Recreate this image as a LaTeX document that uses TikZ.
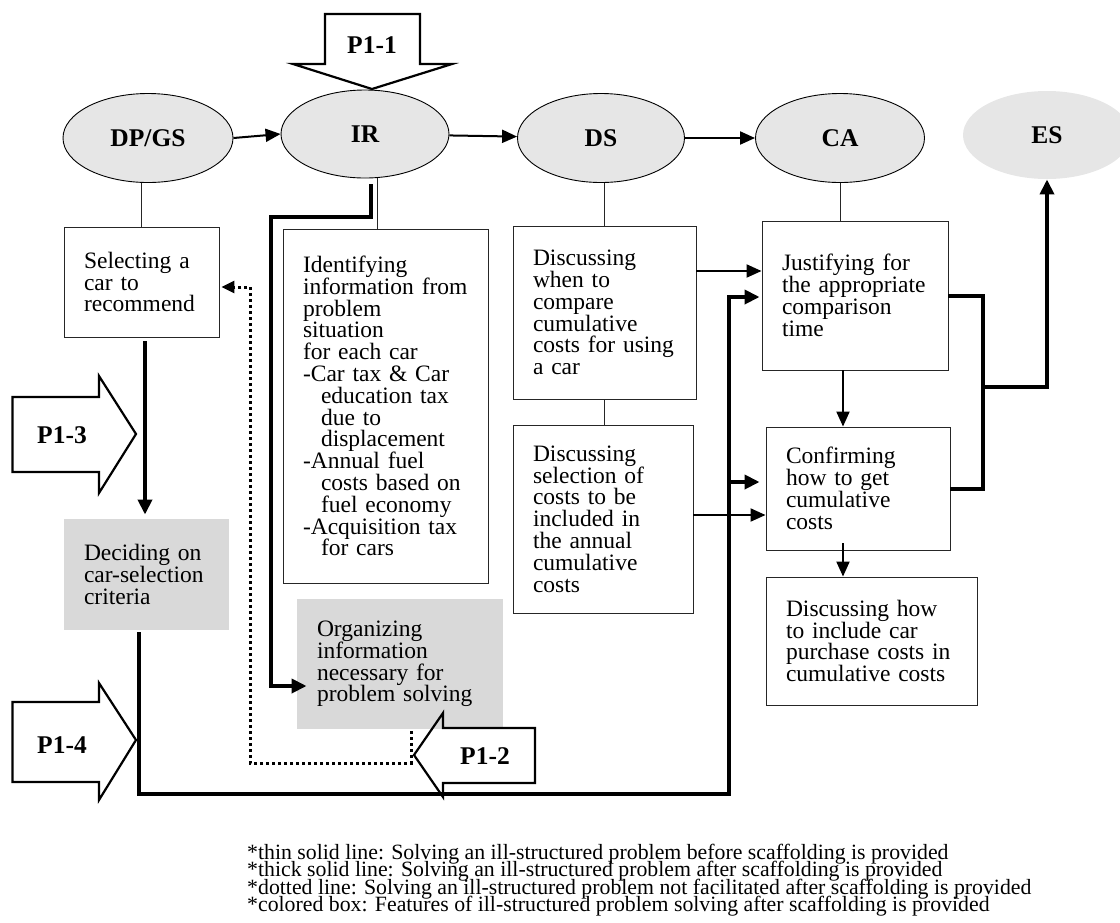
\documentclass[tikz,border=0pt]{standalone}
\usepackage{fontspec}
\setmainfont{Liberation Serif}
\usetikzlibrary{arrows.meta,calc,shapes.geometric}
\hyphenpenalty=10000
\exhyphenpenalty=10000
\definecolor{ellgray}{HTML}{E6E6E6}
\definecolor{boxgray}{HTML}{D9D9D9}
\begin{document}
\begin{tikzpicture}[x=1pt,y=-1pt,
  phase/.style={ellipse, draw=black, line width=0.9pt, fill=ellgray, inner sep=0pt,
    font=\fontsize{25.5}{28}\selectfont\bfseries},
  stepbox/.style={rectangle, draw=black!85, line width=0.9pt, inner xsep=20pt, inner ysep=0pt,
    align=left, font=\fontsize{23.5}{21.8}\selectfont},
  graybox/.style={stepbox, draw=none, fill=boxgray},
  conn/.style={line width=0.9pt, black!85},
  arr/.style={line width=2pt, -{Triangle[length=15pt,width=13pt]}},
  tarr/.style={line width=4pt, -{Triangle[length=15pt,width=14pt]}},
  thickline/.style={line width=4pt},
  dotline/.style={line width=3pt, dash pattern=on 3pt off 3pt, -{Triangle[length=13pt,width=12pt]}},
  blockarr/.style={draw, line width=2.2pt, line join=miter},
  plabel/.style={font=\fontsize{25.5}{28}\selectfont\bfseries, inner sep=0pt},
  note/.style={font=\fontsize{21.8}{17}\selectfont, inner sep=0pt, anchor=base west}
]
\useasboundingbox (0,0) rectangle (1120,922);

% phases
\node[phase, minimum width=170pt, minimum height=89pt] (dpgs) at (148,138) {DP/GS};
\node[phase, minimum width=168pt, minimum height=88pt] (ir) at (365,134) {IR};
\node[phase, minimum width=167pt, minimum height=89pt] (ds) at (601,138) {DS};
\node[phase, minimum width=169pt, minimum height=89pt] (ca) at (840,138) {CA};
\node[phase, draw=none, minimum width=168pt, minimum height=88pt] (es) at (1047,135) {ES};

% boxes
\node[stepbox, text width=115pt, minimum height=110pt] (sel) at (141.5,282)
  {Selecting~a\\car~to\\recommend};
\node[stepbox, text width=165pt, minimum height=354pt] (ident) at (385.5,406)
  {Identifying\\information~from\\problem\\situation\\for~each~car\\-Car~tax~\&~Car\\
   \hspace*{18pt}education~tax\\\hspace*{18pt}due~to\\\hspace*{18pt}displacement\\
   -Annual~fuel\\\hspace*{18pt}costs~based~on\\\hspace*{18pt}fuel~economy\\
   -Acquisition~tax\\\hspace*{18pt}for~cars};
\node[stepbox, text width=143pt, minimum height=173pt] (ds1) at (604.5,312.5)
  {Discussing\\when~to\\compare\\cumulative\\costs~for~using\\a~car};
\node[stepbox, text width=140pt, minimum height=188pt] (ds2) at (603,519)
  {Discussing\\selection~of\\costs~to~be\\included~in\\the~annual\\cumulative\\costs};
\node[stepbox, text width=146pt, minimum height=149pt] (ca1) at (855,295.5)
  {Justifying~for\\the~appropriate\\comparison\\time};
\node[stepbox, text width=144pt, minimum height=123pt] (ca2) at (858,488.5)
  {Confirming\\how~to~get\\cumulative\\costs};
\node[stepbox, text width=171pt, minimum height=128pt] (ca3) at (871.5,641)
  {Discussing~how\\to~include~car\\purchase~costs~in\\cumulative~costs};
\node[graybox, text width=125pt, minimum height=111pt] (decide) at (146.5,574.5)
  {Deciding~on\\car-selection\\criteria};
\node[graybox, text width=166pt, minimum height=130pt] (organize) at (400,664)
  {Organizing\\information\\necessary~for\\problem~solving};

% block arrows (prompts)
\draw[blockarr] (325,14) -- (420,14) -- (420,64) -- (452,64) -- (372,89) -- (293,64) -- (325,64) -- cycle;
\node[plabel] (p11) at (372,45) {P1-1};
\draw[blockarr] (12.5,397) -- (99,397) -- (99,376) -- (136,434) -- (99,493) -- (99,472) -- (12.5,472) -- cycle;
\node[plabel] (p13) at (62,435) {P1-3};
\draw[blockarr] (12.5,702) -- (99,702) -- (99,683) -- (136,740) -- (99,800) -- (99,782) -- (12.5,782) -- cycle;
\node[plabel] (p14) at (62,745) {P1-4};
\draw[blockarr] (535,728) -- (443,728) -- (443,713) -- (414,755) -- (443,797) -- (443,783) -- (535,783) -- cycle;
\node[plabel] (p12) at (485,756) {P1-2};

% thin connectors
\draw[conn] (sel.north) -- (sel.north |- dpgs.south);
\coordinate (c2) at ([xshift=-8.5pt]ident.north);
\draw[conn] (c2) -- (c2 |- ir.south);
\draw[conn] (ds1.north) -- (ds1.north |- ds.south);
\draw[conn] (ds1.south) -- (ds1.south |- ds2.north);
\draw[conn] (ca.south) -- (ca.south |- ca1.north);

% solid arrows (before scaffolding)
\draw[arr] (dpgs.east) -- (ir.west);
\draw[arr] (ir) -- (ds);
\draw[arr] (ds) -- (ca);
\coordinate (a1) at ([yshift=41.5pt]ds1.east);
\draw[arr] (a1) -- (a1 -| ca1.west);
\coordinate (a2) at ([yshift=4pt]ds2.east);
\draw[arr] (a2) -- (a2 -| ca2.west);
\coordinate (a3) at ([xshift=-12pt]ca1.south);
\draw[arr] (a3) -- (a3 |- ca2.north);
\coordinate (a4) at ([xshift=-15pt,yshift=7pt]ca2.south);
\draw[arr] (a4) -- (a4 |- ca3.north);

% thick lines (after scaffolding)
\coordinate (t1) at ([xshift=3.5pt,yshift=-4pt]sel.south);
\draw[tarr] (t1) -- ([yshift=4pt]t1 |- decide.north);
\coordinate (t2) at ([xshift=6pt,yshift=-6pt]ir.south);
\draw[tarr] (t2) -- ++(0,33) -- ++(-100,0) |- ([xshift=10pt,yshift=-22pt]organize.west);
\coordinate (t3) at ([xshift=-7.5pt,yshift=-2pt]decide.south);
\draw[tarr] (t3) -- ++(0,162) -| ([xshift=-33pt,yshift=-1.5pt]ca1.west) -- ([xshift=-2pt,yshift=-1.5pt]ca1.west);
\draw[tarr] ([xshift=-37pt,yshift=6.5pt]ca2.west) -- ([xshift=-6pt,yshift=6.5pt]ca2.west);
\draw[thickline] (ca1.east) -- ++(35,0) |- (ca2.east);
\draw[tarr] ($(ca1.east)+(35,91.5)$) -| (es.south);

% dotted line
\coordinate (d1) at ([xshift=11pt,yshift=-2pt]organize.south);
\draw[dotline] (d1) -- ++(0,32) -| ($(sel.east)+(31,5)$) -- ($(sel.east)+(2,5)$);

% notes
\node[note] (n1) at (247,859) {*thin solid line: Solving an ill-structured problem before scaffolding is provided};
\node[note] (n2) at (247,876.5) {*thick solid line: Solving an ill-structured problem after scaffolding is provided};
\node[note] (n3) at (247,894) {*dotted line: Solving an ill-structured problem not facilitated after scaffolding is provided};
\node[note] (n4) at (247,911.5) {*colored box: Features of ill-structured problem solving after scaffolding is provided};
\end{tikzpicture}
\end{document}
